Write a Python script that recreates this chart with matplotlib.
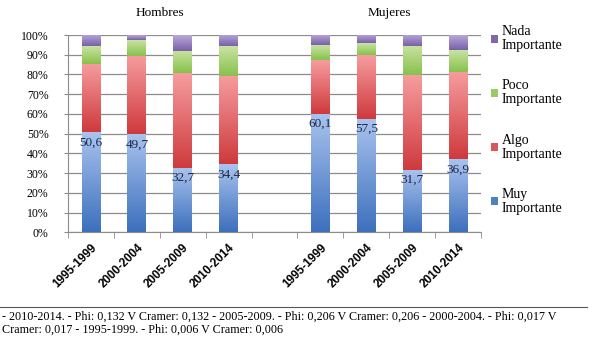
import numpy as np
import matplotlib
matplotlib.use("Agg")
import matplotlib.pyplot as plt
from matplotlib.colors import LinearSegmentedColormap
from matplotlib.patches import Patch
from matplotlib.lines import Line2D

plt.rcParams['font.family'] = ['Liberation Serif', 'DejaVu Serif']

periods = ["1995-1999", "2000-2004", "2005-2009", "2010-2014"]
groups = ["Hombres", "Mujeres"]
series = ["Muy\nImportante", "Algo\nImportante", "Poco\nImportante", "Nada\nImportante"]

# percentages per group, one value per period
muy = {"Hombres": [50.6, 49.7, 32.7, 34.4], "Mujeres": [60.1, 57.5, 31.7, 36.9]}
algo = {"Hombres": [34.7, 39.7, 47.9, 45.0], "Mujeres": [27.2, 32.4, 48.0, 44.5]}
poco = {"Hombres": [9.1, 8.1, 11.4, 15.0], "Mujeres": [7.6, 5.9, 14.7, 11.0]}
nada = {"Hombres": [5.6, 2.5, 8.0, 5.6], "Mujeres": [5.1, 4.2, 5.6, 7.6]}

footer = ("- 2010-2014. - Phi: 0,132 V Cramer: 0,132 - 2005-2009. - Phi: 0,206 V Cramer: 0,206 - 2000-2004. - Phi: 0,017 V\n"
          "Cramer: 0,017 - 1995-1999. - Phi: 0,006 V Cramer: 0,006")

# (bottom colour, top colour, legend colour)
colors = [("#3d70bd", "#a9c3ee", "#4f81bd"),
          ("#cf3a3d", "#f69c9e", "#d9585a"),
          ("#88c14c", "#c8e3a2", "#9bcb68"),
          ("#7a60a8", "#b7a8d7", "#8068a8")]

fig = plt.figure(figsize=(5.89, 3.40), dpi=100)
ax = fig.add_axes([68 / 589, 1 - 232.3 / 340, 413 / 589, 197.3 / 340])

n_slots = len(periods) * 2 + 1
width = 0.41

data = [muy, algo, poco, nada]
for gi, g in enumerate(groups):
    xs = np.arange(len(periods)) + gi * (len(periods) + 1) + 0.5
    bottom = np.zeros(len(periods))
    for si, d in enumerate(data):
        vals = np.array(d[g])
        bars = ax.bar(xs, vals, width, bottom=bottom, color="none", edgecolor="none", zorder=3)
        cmap = LinearSegmentedColormap.from_list("c", [colors[si][0], colors[si][1]])
        for b in bars:
            x0, y0 = b.get_x(), b.get_y()
            grad = np.linspace(0, 1, 64).reshape(-1, 1)
            im = ax.imshow(grad, cmap=cmap, origin="lower", aspect="auto",
                           extent=[x0, x0 + b.get_width(), y0, y0 + b.get_height()], zorder=3)
            im.set_clip_path(b)
        bottom = bottom + vals
    for x, v in zip(xs, muy[g]):
        ax.text(x, v - 2.2, f"{v:.1f}".replace(".", ","), ha="center", va="top",
                fontsize=9.5, color="#1c2743", zorder=5)
    ax.text(xs.mean(), 111, g, ha="center", va="center", fontsize=9.5, clip_on=False)

ax.set_xlim(0, n_slots)
ax.set_ylim(0, 100)

# axes styling
ax.set_yticks(np.arange(0, 101, 10))
ax.set_yticklabels([f"{v}%" for v in range(0, 101, 10)], fontsize=8.5)
ax.yaxis.grid(True, color="#8c8c8c", linewidth=0.9, zorder=0)
ax.set_axisbelow(True)
for s in ["top", "right"]:
    ax.spines[s].set_visible(False)
for s in ["left", "bottom"]:
    ax.spines[s].set_color("#8c8c8c")
ax.tick_params(axis="y", length=3, color="#8c8c8c", pad=11)

centers = [i + 0.5 for i in range(n_slots) if i != len(periods)]
ax.set_xticks(centers)
ax.set_xticklabels(periods * 2, rotation=45, ha="right", rotation_mode="anchor",
                   fontsize=8.5, fontweight="bold", family="Liberation Sans")
ax.tick_params(axis="x", length=0, pad=7)
ax.set_xticks(np.arange(n_slots + 1), minor=True)
ax.tick_params(axis="x", which="minor", length=4, color="#8c8c8c")

handles = [Patch(facecolor=colors[i][2]) for i in range(len(series))][::-1]
leg = fig.legend(handles, series[::-1], loc="center left", bbox_to_anchor=(491 / 589, 1 - 120 / 340),
                 frameon=False, fontsize=10, handlelength=0.5, handleheight=0.5, handletextpad=0.25,
                 labelspacing=1.95, borderpad=0, borderaxespad=0)
for t in leg.get_texts():
    t.set_linespacing(1.1)

fig.add_artist(Line2D([0, 587 / 589], [1 - 307 / 340] * 2, color="#555555", linewidth=0.8))
fig.text(2 / 589, 1 - 310.5 / 340, footer, ha="left", va="top", fontsize=8.7, linespacing=1.12)

fig.savefig("out.png", dpi=100)
